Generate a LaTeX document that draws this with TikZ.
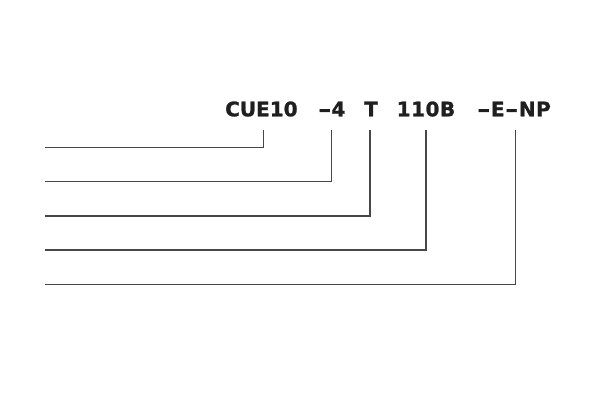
\documentclass[tikz,border=0pt]{standalone}
\usepackage{fontspec}
\usepackage{graphicx}
\setmainfont{DejaVu Sans}[BoldFeatures={FakeBold=1.2}]
\newcommand\wdash{\scalebox{1.6}[1]{-}}
\begin{document}
\begin{tikzpicture}[x=1pt,y=-1pt,
  code/.style={anchor=base west,inner sep=0pt,font=\fontsize{20}{20}\selectfont\bfseries,text=black!88},
  leader/.style={draw=black!72,line width=1.2pt}]
\useasboundingbox (0,0) rectangle (598,402);
\node[code] (t1) at (225,116.3) {CUE10};
\node[code] (t2) at (318,116.3) {\wdash4};
\node[code] (t3) at (364,116.3) {T};
\node[code] (t4) at (396.5,116.3) {1\kern0.5pt1\kern0.5pt0\kern0.5ptB};
\node[code] (t5) at (477,116.3) {\wdash\kern0.5ptE\kern0.5pt\wdash\kern0.5ptN\kern0.5ptP};
\coordinate (v1) at (263.3,130);
\coordinate (v2) at (331.7,130);
\coordinate (v3) at (370,130);
\coordinate (v4) at (426,130);
\coordinate (v5) at (515.7,130);
\coordinate (e1) at (45,147.3);
\coordinate (e2) at (45,181.7);
\coordinate (e3) at (45,216);
\coordinate (e4) at (45,250);
\coordinate (e5) at (45,284.3);
\draw[leader] (v1) |- (e1);
\draw[leader] (v2) |- (e2);
\draw[leader] (v3) |- (e3);
\draw[leader] (v4) |- (e4);
\draw[leader] (v5) |- (e5);
\end{tikzpicture}
\end{document}
